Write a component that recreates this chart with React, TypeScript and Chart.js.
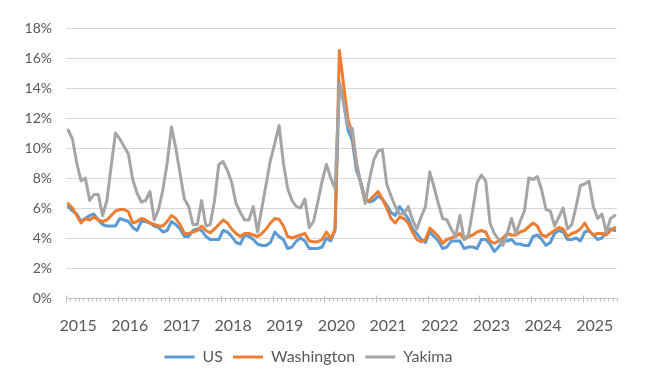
import React, { useEffect, useRef } from "react";
import { Chart, registerables } from "chart.js";

Chart.register(...registerables);

const YEAR_LABELS = ["2015", "2016", "2017", "2018", "2019", "2020", "2021", "2022", "2023", "2024", "2025"];
const Y_MAX = 18;
const Y_STEP = 2;

// Monthly unemployment rate (%), Jan 2015 – Aug 2025
const US = [
  6.1, 5.8, 5.6, 5.1, 5.3, 5.5, 5.6, 5.2, 4.9, 4.8, 4.8, 4.8,
  5.3, 5.2, 5.1, 4.7, 4.5, 5.1, 5.1, 5.0, 4.8, 4.7, 4.4, 4.5,
  5.1, 4.9, 4.6, 4.1, 4.1, 4.5, 4.6, 4.5, 4.1, 3.9, 3.9, 3.9,
  4.5, 4.4, 4.1, 3.7, 3.6, 4.2, 4.1, 3.9, 3.6, 3.5, 3.5, 3.7,
  4.4, 4.1, 3.9, 3.3, 3.4, 3.8, 4.0, 3.8, 3.3, 3.3, 3.3, 3.4,
  4.0, 3.8, 4.5, 14.4, 13.0, 11.2, 10.5, 8.5, 7.7, 6.6, 6.4, 6.5,
  6.8, 6.6, 6.2, 5.7, 5.5, 6.1, 5.7, 5.3, 4.6, 4.3, 3.9, 3.7,
  4.4, 4.1, 3.8, 3.3, 3.4, 3.8, 3.8, 3.8, 3.3, 3.4, 3.4, 3.3,
  3.9, 3.9, 3.6, 3.1, 3.4, 3.8, 3.8, 3.9, 3.6, 3.6, 3.5, 3.5,
  4.1, 4.2, 3.9, 3.5, 3.7, 4.3, 4.5, 4.4, 3.9, 3.9, 4.0, 3.8,
  4.4, 4.5, 4.2, 3.9, 4.0, 4.4, 4.6, 4.5,
];

const WASHINGTON = [
  6.3, 6.0, 5.5, 5.0, 5.3, 5.2, 5.4, 5.2, 5.1, 5.2, 5.5, 5.8,
  5.9, 5.9, 5.75, 5.0, 5.1, 5.3, 5.2, 5.0, 4.9, 4.8, 4.8, 5.1,
  5.5, 5.3, 4.9, 4.3, 4.3, 4.4, 4.5, 4.8, 4.5, 4.35, 4.6, 4.9,
  5.2, 5.0, 4.6, 4.3, 4.1, 4.3, 4.3, 4.2, 4.1, 4.3, 4.6, 5.0,
  5.3, 5.25, 4.8, 4.1, 4.0, 4.1, 4.2, 4.3, 3.8, 3.75, 3.75, 3.9,
  4.4, 3.95, 4.6, 16.5, 14.2, 11.9, 11.0, 8.9, 7.6, 6.5, 6.5, 6.8,
  7.1, 6.6, 6.0, 5.3, 5.0, 5.4, 5.3, 5.0, 4.4, 3.9, 3.75, 3.9,
  4.65, 4.4, 4.1, 3.65, 3.9, 4.0, 4.1, 4.3, 3.9, 4.1, 4.2, 4.4,
  4.5, 4.4, 3.8, 3.65, 3.8, 4.0, 4.3, 4.2, 4.2, 4.4, 4.5, 4.75,
  5.0, 4.8, 4.2, 4.1, 4.3, 4.5, 4.7, 4.6, 4.1, 4.3, 4.4, 4.6,
  5.0, 4.5, 4.2, 4.3, 4.3, 4.2, 4.5, 4.7,
];

const YAKIMA = [
  11.2, 10.6, 9.0, 7.8, 8.0, 6.5, 6.9, 6.9, 5.5, 6.5, 8.8, 11.0,
  10.6, 10.1, 9.6, 7.9, 7.0, 6.4, 6.5, 7.1, 5.2, 5.9, 7.2, 9.0,
  11.4, 10.0, 8.3, 6.6, 6.1, 4.9, 4.9, 6.5, 4.8, 4.9, 6.5, 8.9,
  9.1, 8.5, 7.7, 6.3, 5.7, 5.2, 5.2, 6.1, 4.4, 6.0, 7.6, 9.2,
  10.3, 11.5, 9.0, 7.3, 6.5, 6.1, 6.0, 6.6, 4.7, 5.1, 6.4, 7.8,
  8.9, 8.0, 7.3, 14.3, 13.0, 11.4, 11.3, 9.0, 7.6, 6.3, 7.9, 9.2,
  9.8, 9.9, 7.6, 6.8, 6.1, 5.6, 5.6, 6.1, 5.2, 4.6, 5.4, 6.1,
  8.4, 7.4, 6.3, 5.3, 5.2, 4.6, 4.1, 5.5, 3.9, 4.2, 5.9, 7.7,
  8.2, 7.8, 5.0, 4.3, 3.9, 3.5, 4.3, 5.3, 4.3, 5.1, 5.8, 8.0,
  7.9, 8.1, 7.2, 5.9, 5.8, 4.8, 5.4, 6.0, 4.6, 4.9, 6.1, 7.5,
  7.6, 7.8, 6.1, 5.3, 5.6, 4.4, 5.3, 5.5,
];

const N = US.length;
const toPoints = (arr: number[]) => arr.map((v, i) => ({ x: i, y: v }));

const AXIS_COLOR = "#bfbfbf";
const GRID_COLOR = "#d9d9d9";
const TEXT_COLOR = "#595959";

const axisTicksPlugin = {
  id: "axisTicks",
  afterDatasetsDraw(chart: any) {
    const xs = chart.scales.x;
    const { left, right, bottom } = chart.chartArea;
    const ctx = chart.ctx;
    ctx.save();
    ctx.strokeStyle = AXIS_COLOR;
    ctx.lineWidth = 1;
    ctx.beginPath();
    const yb = Math.round(bottom) + 0.5;
    ctx.moveTo(left, yb);
    ctx.lineTo(right, yb);
    for (let i = 0; i <= N; i++) {
      const px = Math.round(xs.getPixelForValue(i - 0.5)) + 0.5;
      if (i % 12 === 0) {
        ctx.moveTo(px, yb - 3);
        ctx.lineTo(px, yb + 4);
      } else {
        ctx.moveTo(px, yb);
        ctx.lineTo(px, yb + 3);
      }
    }
    ctx.stroke();
    ctx.restore();
  },
};

export default function App() {
  const ref = useRef<HTMLCanvasElement | null>(null);
  useEffect(() => {
    if (!ref.current) return;
    Chart.defaults.font.family = "Lato";
    Chart.defaults.color = TEXT_COLOR;
    const mk = (label: string, data: number[], color: string, order: number) => ({
      label,
      data: toPoints(data),
      borderColor: color,
      backgroundColor: color,
      borderWidth: 3,
      pointRadius: 0,
      pointHoverRadius: 0,
      tension: 0,
      fill: false,
      borderJoinStyle: "round" as const,
      borderCapStyle: "round" as const,
      order,
    });
    const chart = new Chart(ref.current, {
      type: "line",
      data: {
        datasets: [
          mk("US", US, "#5b9bd5", 3),
          mk("Washington", WASHINGTON, "#ed7d31", 2),
          mk("Yakima", YAKIMA, "#a5a5a5", 1),
        ],
      },
      options: {
        animation: false,
        responsive: false,
        layout: { padding: { left: 0, right: 33, top: 28, bottom: 4 } },
        scales: {
          x: {
            type: "linear",
            min: -0.5,
            max: N - 0.5,
            afterBuildTicks: (s: any) => {
              s.ticks = YEAR_LABELS.map((_, i) => ({ value: i * 12 }));
            },
            afterFit: (s: any) => {
              s.height = 41;
            },
            grid: { display: false },
            border: { display: false },
            ticks: {
              autoSkip: false,
              maxRotation: 0,
              padding: 10,
              labelOffset: 10,
              font: { size: 16 },
              color: TEXT_COLOR,
              callback: (v: any) => YEAR_LABELS[Math.round(Number(v) / 12)] ?? "",
            },
          },
          y: {
            min: 0,
            max: Y_MAX,
            afterFit: (s: any) => {
              s.width = 66;
            },
            grid: { color: GRID_COLOR, lineWidth: 1, drawTicks: false },
            border: { display: false },
            ticks: {
              stepSize: Y_STEP,
              padding: 14,
              font: { size: 14 },
              color: TEXT_COLOR,
              callback: (v: any) => `${v}%`,
            },
          },
        },
        plugins: {
          tooltip: { enabled: false },
          legend: {
            position: "bottom",
            labels: {
              boxWidth: 30,
              boxHeight: 3,
              padding: 10,
              font: { size: 16 },
              color: TEXT_COLOR,
              sort: (a: any, b: any) => a.datasetIndex - b.datasetIndex,
              generateLabels: (c: any) =>
                Chart.defaults.plugins.legend.labels.generateLabels(c).map((l: any) => ({ ...l, lineWidth: 0 })),
            },
          },
        },
      },
      plugins: [axisTicksPlugin],
    });
    return () => chart.destroy();
  }, []);
  return (
    <div style={{ position: "absolute", left: 0, top: 0, width: 650, height: 379, background: "#fff" }}>
      <canvas ref={ref} width={650} height={379} style={{ width: 650, height: 379, display: "block" }} />
    </div>
  );
}
